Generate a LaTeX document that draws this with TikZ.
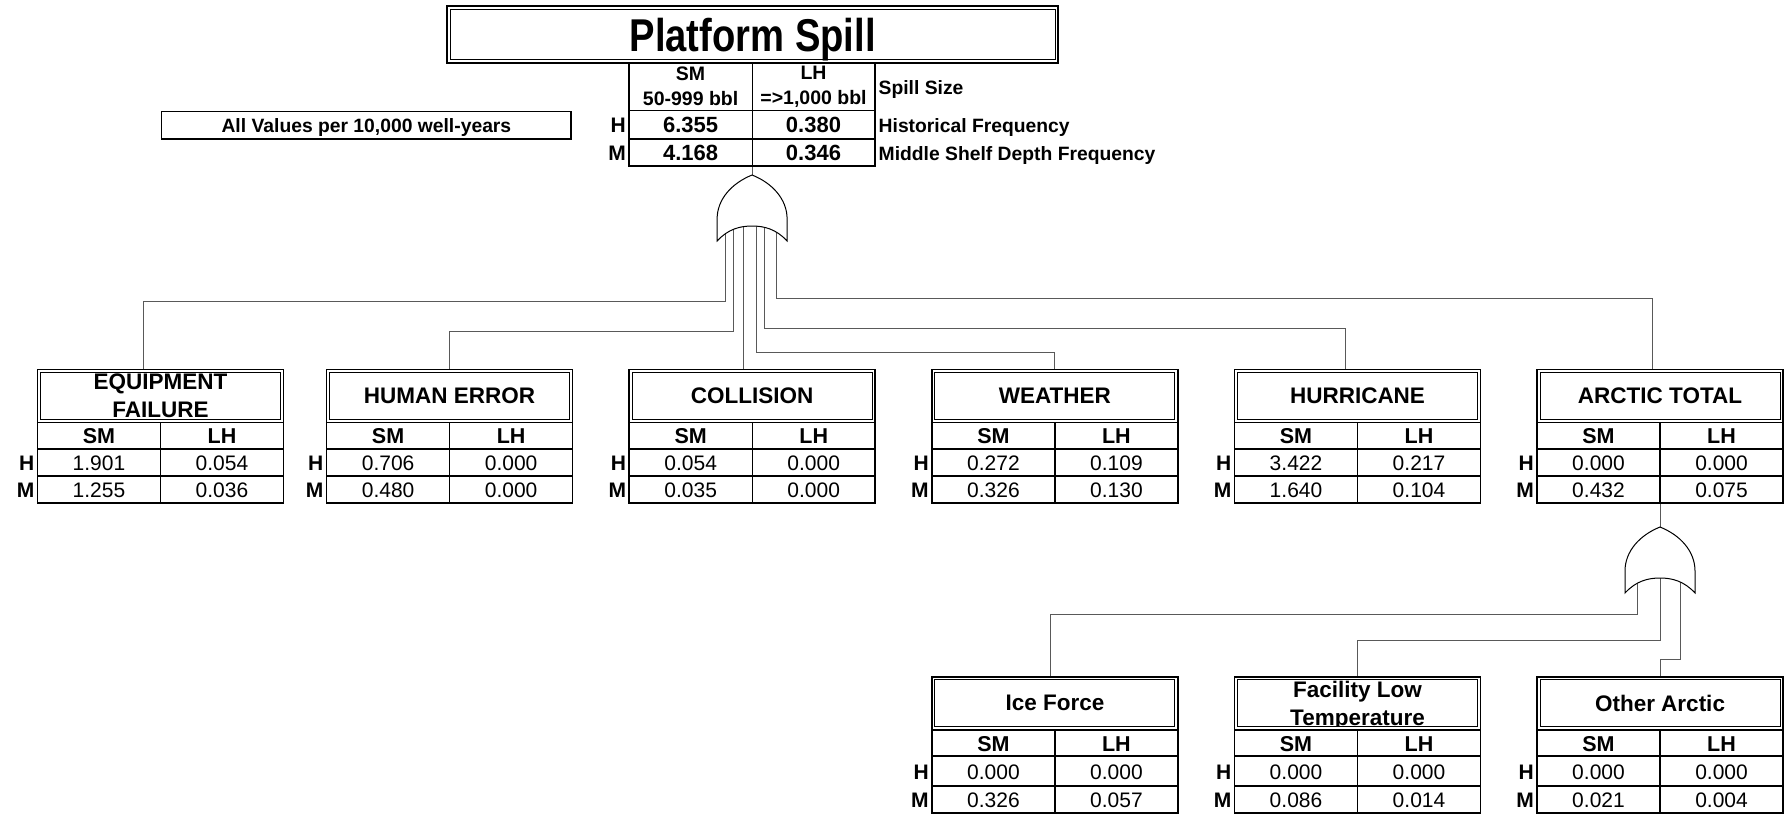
\documentclass[tikz,border=0pt]{standalone}
\usepackage{fontspec}
\setmainfont{Liberation Sans}
\usepackage{graphicx}
\pgfdeclarelayer{background}
\pgfsetlayers{background,main}
\tikzset{
  wire/.style={draw=black!65, line width=1pt},
  gateline/.style={draw=black, line width=1pt, fill=white},
  tabline/.style={draw=black, line width=1.6pt},
  divline/.style={draw=black, line width=1.2pt},
  maintitle/.style={draw=black, line width=2.2pt, minimum width=611pt, minimum height=56.5pt, inner sep=0pt, text depth=0pt, font=\fontsize{46}{50}\selectfont\bfseries},
  evtitle/.style={draw=black, line width=1.6pt, minimum width=246pt, minimum height=53pt, inner sep=0pt},
  evtext/.style={align=center, inner sep=0pt, text depth=0pt, font=\fontsize{22.5}{28}\selectfont\bfseries},
  cellhead/.style={inner sep=0pt, font=\fontsize{21.5}{26}\selectfont\bfseries},
  cellval/.style={inner sep=0pt, font=\fontsize{21}{26}\selectfont},
  rowlab/.style={anchor=east, inner sep=0pt, font=\fontsize{21}{26}\selectfont\bfseries},
  tophead/.style={align=center, inner sep=0pt, font=\fontsize{19.5}{25}\selectfont\bfseries},
  topval/.style={inner sep=0pt, font=\fontsize{22}{26}\selectfont\bfseries},
  sidelab/.style={anchor=west, inner sep=0pt, text depth=0pt, font=\fontsize{19.3}{24}\selectfont\bfseries},
  notebox/.style={draw=black, line width=1.6pt, minimum width=409.6pt, minimum height=27.3pt, inner sep=0pt, text depth=0pt, font=\fontsize{19.3}{24}\selectfont\bfseries}
}
\newcommand{\orgate}[3]{%
  \begin{scope}[shift={(#2,#3)}]
    \draw[gateline] (0,0) .. controls (20,8) and (35,24) .. (35,44) -- (35,66)
      .. controls (24,54) and (12,51) .. (0,51)
      .. controls (-12,51) and (-24,54) .. (-35,66) -- (-35,44)
      .. controls (-35,24) and (-20,8) .. cycle;
    \coordinate (#1) at (0,0);
  \end{scope}}
\newcommand{\eventbox}[9]{%
  \begin{scope}[shift={(#2,#3)}]
    \node[evtitle] (#1) at (123,26.5) {};
    \begin{scope}
      \clip (3,3) rectangle (243,50);
      \node[evtext] at (123,26.5) {#4};
    \end{scope}
    \draw[line width=1pt] (3,3) rectangle (243,50);
    \draw[tabline] (0,53) rectangle (246,106.5+#9) (0,79.5) -- (246,79.5) (0,79.5+#9) -- (246,79.5+#9);
    \draw[divline] (123,53) -- (123,106.5+#9);
    \node[cellhead] at (61.5,67) {SM};
    \node[cellhead] at (184.5,67) {LH};
    \node[cellval] at (61.5,80.5+#9/2) {#5};
    \node[cellval] at (184.5,80.5+#9/2) {#6};
    \node[cellval] at (61.5,94+#9) {#7};
    \node[cellval] at (184.5,94+#9) {#8};
    \node[rowlab] at (-3,80.5+#9/2) {H};
    \node[rowlab] at (-3,94+#9) {M};
    \coordinate (#1-base) at (123,106.5+#9);
  \end{scope}}
\begin{document}
\begin{tikzpicture}[x=1pt,y=-1pt]
\useasboundingbox (0,0) rectangle (1784,814);
\node[maintitle] (spill) at (752.7,34.5) {\scalebox{0.83}[1]{Platform Spill}};
\draw[line width=1pt] ([shift={(4,4)}]spill.north west) rectangle ([shift={(-4,-4)}]spill.south east);
\draw[tabline] (629.2,62.5) rectangle (875,166.1) (629.2,110.4) -- (875,110.4) (629.2,138.8) -- (875,138.8);
\draw[divline] (752.1,62.5) -- (752.1,166.1);
\node[tophead] (sm-head) at (690.6,86.5) {SM\\50-999 bbl};
\node[tophead] (lh-head) at (813.5,86.5) {LH\\=>1,000 bbl};
\node[topval] (h-sm) at (690.6,125.4) {6.355};
\node[topval] (h-lh) at (813.5,125.4) {0.380};
\node[topval] (m-sm) at (690.6,153.2) {4.168};
\node[topval] (m-lh) at (813.5,153.2) {0.346};
\node[rowlab] (h-lab) at (626,125.2) {H};
\node[rowlab] (m-lab) at (626,153) {M};
\node[sidelab] (size-lab) at (878.5,87.5) {Spill Size};
\node[sidelab] (hist-lab) at (878.5,125.6) {Historical Frequency};
\node[sidelab] (mid-lab) at (878.5,153.5) {Middle Shelf Depth Frequency};
\node[notebox] (note) at (366.4,125.1) {All Values per 10,000 well-years};
\coordinate (spill-base) at (752.1,166.1);

\orgate{spillgate}{752.1}{175}
\coordinate (spill-in1) at (725.3,220);
\coordinate (spill-in2) at (733,220);
\coordinate (spill-in3) at (743.3,220);
\coordinate (spill-in4) at (756,220);
\coordinate (spill-in5) at (764,220);
\coordinate (spill-in6) at (776,220);

\eventbox{equip}{37.5}{369.5}{EQUIPMENT\\FAILURE}{1.901}{0.054}{1.255}{0.036}{26.7}
\eventbox{human}{326.6}{369.5}{HUMAN ERROR}{0.706}{0.000}{0.480}{0.000}{26.7}
\eventbox{coll}{629.2}{369.5}{COLLISION}{0.054}{0.000}{0.035}{0.000}{26.7}
\eventbox{weather}{931.9}{369.5}{WEATHER}{0.272}{0.109}{0.326}{0.130}{26.7}
\eventbox{hurr}{1234.5}{369.5}{HURRICANE}{3.422}{0.217}{1.640}{0.104}{26.7}
\eventbox{arctic}{1537}{369.5}{ARCTIC TOTAL}{0.000}{0.000}{0.432}{0.075}{26.7}

\orgate{arcticgate}{1660}{527}
\coordinate (arctic-in1) at (1637.7,572);
\coordinate (arctic-in2) at (1660,572);
\coordinate (arctic-in3) at (1680.7,572);

\eventbox{ice}{931.9}{676.7}{Ice Force}{0.000}{0.000}{0.326}{0.057}{30}
\eventbox{facil}{1234.5}{676.7}{Facility Low\\Temperature}{0.000}{0.000}{0.086}{0.014}{30}
\eventbox{other}{1537}{676.7}{Other Arctic}{0.000}{0.000}{0.021}{0.004}{30}

\begin{pgfonlayer}{background}
\draw[wire] (spill-base) -- (spillgate);
\draw[wire] (spill-in1) |- (143.4,301) -- (143.4,0 |- equip.north);
\draw[wire] (spill-in2) |- (449.5,331) -- (449.5,0 |- human.north);
\draw[wire] (spill-in3) -- (743.3,0 |- coll.north);
\draw[wire] (spill-in4) |- (1054.7,352) -- (1054.7,0 |- weather.north);
\draw[wire] (spill-in5) |- (1345,328) -- (1345,0 |- hurr.north);
\draw[wire] (spill-in6) |- (1652.8,298) -- (1652.8,0 |- arctic.north);
\draw[wire] (arctic-base) -- (arcticgate);
\draw[wire] (arctic-in1) |- (1050,614) -- (1050,0 |- ice.north);
\draw[wire] (arctic-in2) |- (1357.5,640.5) -- (facil.north);
\draw[wire] (arctic-in3) |- (1680.7,659) -| (other.north);
\end{pgfonlayer}
\end{tikzpicture}
\end{document}
